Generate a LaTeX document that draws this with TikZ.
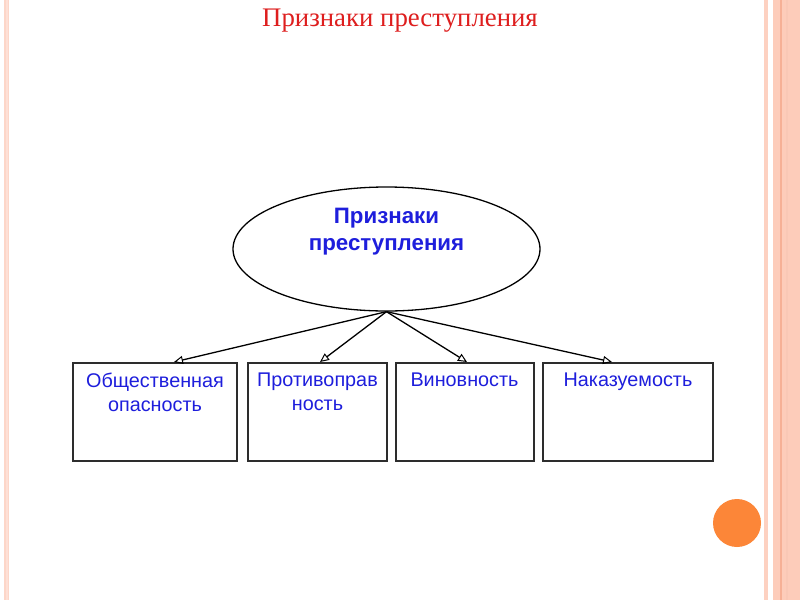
\documentclass[tikz,border=0pt]{standalone}
\usepackage{fontspec}
\setmainfont{Liberation Serif}
\setsansfont{Liberation Sans}
\usetikzlibrary{arrows.meta,shapes.geometric}
\definecolor{salmon}{RGB}{253,204,186}
\definecolor{salmondark}{RGB}{246,176,150}
\definecolor{dotorange}{RGB}{252,134,56}
\definecolor{titlered}{RGB}{222,30,30}
\definecolor{textblue}{RGB}{30,30,220}
\definecolor{boxgray}{RGB}{45,45,45}
\tikzset{
  sign/.style={draw=boxgray, line width=2pt, fill=white, minimum width=#1, minimum height=98pt, inner sep=0pt, anchor=north},
  signtext/.style={font=\sffamily\fontsize{19.8}{24}\selectfont, text=textblue, align=center, anchor=north, inner sep=0pt},
  conn/.style={line width=1.3pt, -{Triangle[open, length=9pt, width=8pt, line width=1pt]}},
}
\begin{document}
\begin{tikzpicture}[x=1pt,y=-1pt]
\useasboundingbox (0,0) rectangle (800,600);
\fill[white] (0,0) rectangle (800,600);
% borders
\fill[salmon!80] (4,0) rectangle (9,600);
\fill[salmon!60] (5.5,0) rectangle (7.5,600);
\fill[salmon!90] (764,0) rectangle (768,600);
\fill[salmon] (773,0) rectangle (800,600);
\fill[salmondark] (779.5,0) rectangle (782,600);
\fill[salmondark!70] (786,0) rectangle (788,600);
% orange dot
\fill[dotorange] (737,523) circle (24);
% title
\node[font=\fontsize{26.8}{30}\selectfont, text=titlered] (title) at (400,21) {Признаки преступления};
% ellipse
\node[ellipse, draw, line width=1.3pt, minimum width=307pt, minimum height=124pt, inner sep=0pt] (main) at (386.5,249) {};
\node[font=\sffamily\bfseries\fontsize{22.3}{27}\selectfont, text=textblue, align=center] (maintext) at (386.5,232) {Признаки\\преступления};
% boxes
\node[sign=164pt] (b1) at (155,362) {};
\node[sign=139pt] (b2) at (317.5,362) {};
\node[sign=138pt] (b3) at (464.5,362) {};
\node[sign=170pt] (b4) at (628,362) {};
\node[signtext] (t1) at ([yshift=-11pt]b1.north) {Общественная\\опасность};
\node[signtext] (t2) at ([yshift=-11pt]b2.north) {Противоправ\\ность};
\node[signtext] (t3) at ([yshift=-11pt]b3.north) {Виновность};
\node[signtext] (t4) at ([yshift=-11pt]b4.north) {Наказуемость};
% connectors
\coordinate (hub) at (main.south);
\draw[conn] (hub) -- ([xshift=19pt]b1.north);
\draw[conn] (hub) -- ([xshift=2.5pt]b2.north);
\draw[conn] (hub) -- ([xshift=2.5pt]b3.north);
\draw[conn] (hub) -- ([xshift=-16pt]b4.north);
\end{tikzpicture}
\end{document}
